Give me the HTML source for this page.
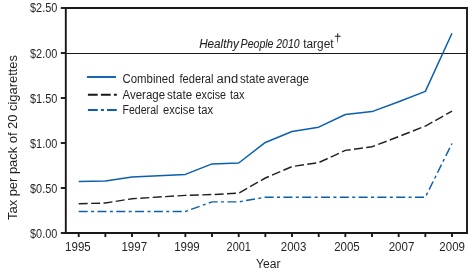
<!DOCTYPE html>
<html><head><meta charset="utf-8"><style>
html,body{margin:0;padding:0;background:#fff;width:475px;height:274px;overflow:hidden}
svg{display:block;will-change:transform}
text{font-family:"Liberation Sans",sans-serif;font-size:12px;fill:#231f20}
.it{stroke:#231f20;stroke-width:0.1}
</style></head><body>
<svg width="475" height="274" viewBox="0 0 475 274">
<line x1="66" y1="53.5" x2="467" y2="53.5" stroke="#1a1718" stroke-width="1.05"/>
<g stroke="#1a1718" stroke-width="1.9" fill="none">
<polyline points="65.8,8 467,8 467,233 65.8,233 65.8,8"/>
<line x1="78.70" y1="233" x2="78.70" y2="237"/><line x1="105.36" y1="233" x2="105.36" y2="237"/><line x1="132.03" y1="233" x2="132.03" y2="237"/><line x1="158.69" y1="233" x2="158.69" y2="237"/><line x1="185.36" y1="233" x2="185.36" y2="237"/><line x1="212.02" y1="233" x2="212.02" y2="237"/><line x1="238.69" y1="233" x2="238.69" y2="237"/><line x1="265.35" y1="233" x2="265.35" y2="237"/><line x1="292.01" y1="233" x2="292.01" y2="237"/><line x1="318.68" y1="233" x2="318.68" y2="237"/><line x1="345.34" y1="233" x2="345.34" y2="237"/><line x1="372.01" y1="233" x2="372.01" y2="237"/><line x1="398.67" y1="233" x2="398.67" y2="237"/><line x1="425.34" y1="233" x2="425.34" y2="237"/><line x1="452.00" y1="233" x2="452.00" y2="237"/>
<line x1="60.8" y1="233.00" x2="66" y2="233.00"/><line x1="60.8" y1="188.00" x2="66" y2="188.00"/><line x1="60.8" y1="143.00" x2="66" y2="143.00"/><line x1="60.8" y1="98.00" x2="66" y2="98.00"/><line x1="60.8" y1="53.00" x2="66" y2="53.00"/><line x1="60.8" y1="8.00" x2="66" y2="8.00"/>
</g>
<polyline points="78.70,181.61 105.36,180.98 132.03,177.02 158.69,175.85 185.36,174.41 212.02,163.88 238.69,162.98 265.35,142.46 292.01,131.48 318.68,127.16 345.34,114.47 372.01,111.59 398.67,101.69 425.34,91.34 452.00,33.29" fill="none" stroke="#0b5fae" stroke-width="1.5" stroke-linejoin="round"/>
<polyline points="78.70,203.66 105.36,203.03 132.03,198.71 158.69,197.00 185.36,195.38 212.02,194.57 238.69,193.13 265.35,178.01 292.01,166.58 318.68,162.62 345.34,150.38 372.01,146.78 398.67,136.61 425.34,126.08 452.00,111.23" fill="none" stroke="#231f20" stroke-width="1.45" stroke-dasharray="9,3.4"/>
<polyline points="78.70,211.49 105.36,211.49 132.03,211.49 158.69,211.49 185.36,211.49 212.02,201.86 238.69,201.86 265.35,197.18 292.01,197.18 318.68,197.18 345.34,197.18 372.01,197.18 398.67,197.18 425.34,197.18 452.00,143.45" fill="none" stroke="#0b5fae" stroke-width="1.45" stroke-dasharray="9,3.4,3,3.4"/>
<g stroke-width="1.9" fill="none">
<line x1="86.9" y1="77" x2="116" y2="77" stroke="#0b5fae"/>
<line x1="87.9" y1="94.7" x2="116.8" y2="94.7" stroke="#1a1718" stroke-dasharray="9.8,3.2"/>
<line x1="87.9" y1="110" x2="116.8" y2="110" stroke="#0b5fae" stroke-dasharray="9.9,3.1,3,3.1"/>
</g>
<text x="122.5" y="82.8" textLength="52.05" lengthAdjust="spacingAndGlyphs" font-size="11.7">Combined</text><text x="179.5" y="82.8" textLength="34.03" lengthAdjust="spacingAndGlyphs" font-size="11.7">federal</text><text x="216.5" y="82.8" textLength="21.68" lengthAdjust="spacingAndGlyphs" font-size="11.7">and</text><text x="240.0" y="82.8" textLength="25.13" lengthAdjust="spacingAndGlyphs" font-size="11.7">state</text><text x="267.0" y="82.8" textLength="42.1" lengthAdjust="spacingAndGlyphs" font-size="11.7">average</text>
<text x="122.5" y="98.6" textLength="42.55" lengthAdjust="spacingAndGlyphs" font-size="11.7">Average</text><text x="167.0" y="98.6" textLength="25.1" lengthAdjust="spacingAndGlyphs" font-size="11.7">state</text><text x="195.5" y="98.6" textLength="30.57" lengthAdjust="spacingAndGlyphs" font-size="11.7">excise</text><text x="230.0" y="98.6" textLength="14.57" lengthAdjust="spacingAndGlyphs" font-size="11.7">tax</text>
<text x="122.5" y="114.3" textLength="35.87" lengthAdjust="spacingAndGlyphs" font-size="11.7">Federal</text><text x="163.0" y="114.3" textLength="31.62" lengthAdjust="spacingAndGlyphs" font-size="11.7">excise</text><text x="198.0" y="114.3" textLength="15.04" lengthAdjust="spacingAndGlyphs" font-size="11.7">tax</text>
<text x="199.2" y="48" textLength="39.6" lengthAdjust="spacingAndGlyphs" font-style="italic" font-size="11.5" class="it">Healthy</text>
<text x="240.6" y="48" textLength="32.9" lengthAdjust="spacingAndGlyphs" font-style="italic" font-size="11.5" class="it">People</text>
<text x="276.3" y="48" textLength="23.2" lengthAdjust="spacingAndGlyphs" font-style="italic" font-size="11.2" class="it">2010</text>
<text x="303.2" y="48" textLength="30.4" lengthAdjust="spacingAndGlyphs" font-size="11.5">target</text>
<path d="M337.1,33.4 L338.3,33.4 L337.9,42.6 L337.4,42.6 Z M334.8,35.7 L340.6,35.7 L340.6,36.8 L334.8,36.8 Z" fill="#231f20"/>
<text x="30.0" y="238.40" textLength="27.3" lengthAdjust="spacingAndGlyphs" font-size="12">$0.00</text><text x="30.0" y="193.40" textLength="27.3" lengthAdjust="spacingAndGlyphs" font-size="12">$0.50</text><text x="30.0" y="148.40" textLength="27.3" lengthAdjust="spacingAndGlyphs" font-size="12">$1.00</text><text x="30.0" y="103.40" textLength="27.3" lengthAdjust="spacingAndGlyphs" font-size="12">$1.50</text><text x="30.0" y="58.40" textLength="27.3" lengthAdjust="spacingAndGlyphs" font-size="12">$2.00</text><text x="30.0" y="11.80" textLength="27.3" lengthAdjust="spacingAndGlyphs" font-size="12">$2.50</text>
<text x="65.10" y="251" font-size="12" textLength="25.6" lengthAdjust="spacingAndGlyphs">1995</text><text x="121.45" y="251" font-size="12" textLength="25.6" lengthAdjust="spacingAndGlyphs">1997</text><text x="174.15" y="251" font-size="12" textLength="25.6" lengthAdjust="spacingAndGlyphs">1999</text><text x="226.60" y="251" font-size="12" textLength="24.3" lengthAdjust="spacingAndGlyphs">2001</text><text x="280.80" y="251" font-size="12" textLength="25.6" lengthAdjust="spacingAndGlyphs">2003</text><text x="334.15" y="251" font-size="12" textLength="25.6" lengthAdjust="spacingAndGlyphs">2005</text><text x="388.70" y="251" font-size="12" textLength="25.6" lengthAdjust="spacingAndGlyphs">2007</text><text x="439.35" y="251" font-size="12" textLength="25.6" lengthAdjust="spacingAndGlyphs">2009</text>
<text x="256.1" y="267.8" textLength="24.5" lengthAdjust="spacingAndGlyphs" font-size="14.5">Year</text>
<text transform="translate(17.4,220) rotate(-90)" textLength="165" lengthAdjust="spacingAndGlyphs" font-size="14.5">Tax per pack of 20 cigarettes</text>
</svg>
</body></html>
